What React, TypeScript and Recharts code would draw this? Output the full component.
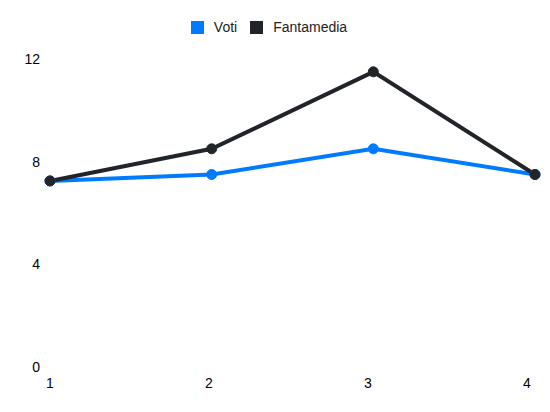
import React from "react";
import { LineChart, Line, XAxis, YAxis, Legend } from "recharts";

const categories = ["1", "2", "3", "4"];
const voti = [7.25, 7.5, 8.5, 7.5];
const fantamedia = [7.25, 8.5, 11.5, 7.5];
const yTicks = [0, 4, 8, 12];

const data = categories.map((c, i) => ({ x: c, voti: voti[i], fantamedia: fantamedia[i] }));

const BLUE = "#007bff";
const DARK = "#212529";
const FONT = "'Liberation Sans', Arial, Helvetica, sans-serif";

const items = [
  { name: "Voti", color: BLUE },
  { name: "Fantamedia", color: DARK },
];

const LegendContent = () => (
  <div style={{ display: "flex", justifyContent: "center", alignItems: "center", fontFamily: FONT, fontSize: 14, color: "#222" }}>
    {items.map((it, i) => (
      <div key={it.name} style={{ display: "flex", alignItems: "center", marginLeft: i === 0 ? 0 : 13 }}>
        <span style={{ display: "inline-block", width: 13, height: 13, background: it.color, marginRight: 10 }} />
        <span>{it.name}</span>
      </div>
    ))}
  </div>
);

export default function App() {
  return (
    <div style={{ position: "absolute", left: 0, top: 0, width: 550, height: 412, background: "#fff" }}>
      <LineChart width={550} height={412} data={data} margin={{ top: 59, right: 15, bottom: 15, left: 0 }}>
        <Legend
          verticalAlign="middle"
          layout="horizontal"
          content={<LegendContent />}
          wrapperStyle={{ position: "absolute", top: 19, left: -6, width: 550 }}
        />
        <YAxis
          type="number"
          domain={[0, 12]}
          ticks={yTicks}
          width={50}
          axisLine={false}
          tickLine={false}
          tickSize={0}
          tickMargin={10}
          tick={{ fill: "#000", fontSize: 14, fontFamily: FONT }}
        />
        <XAxis xAxisId="lines" dataKey="x" hide padding={{ left: 0, right: 0 }} />
        <XAxis
          xAxisId="labels"
          dataKey="x"
          height={30}
          axisLine={false}
          tickLine={false}
          tickSize={0}
          tickMargin={11}
          padding={{ left: 0, right: 8 }}
          tick={{ fill: "#000", fontSize: 14, fontFamily: FONT }}
        />
        <Line
          xAxisId="lines"
          type="linear"
          dataKey="voti"
          stroke={BLUE}
          strokeWidth={4}
          dot={{ r: 5, fill: BLUE, stroke: BLUE, strokeWidth: 1 }}
          isAnimationActive={false}
        />
        <Line
          xAxisId="lines"
          type="linear"
          dataKey="fantamedia"
          stroke={DARK}
          strokeWidth={4}
          dot={{ r: 5, fill: DARK, stroke: DARK, strokeWidth: 1 }}
          isAnimationActive={false}
        />
      </LineChart>
    </div>
  );
}
